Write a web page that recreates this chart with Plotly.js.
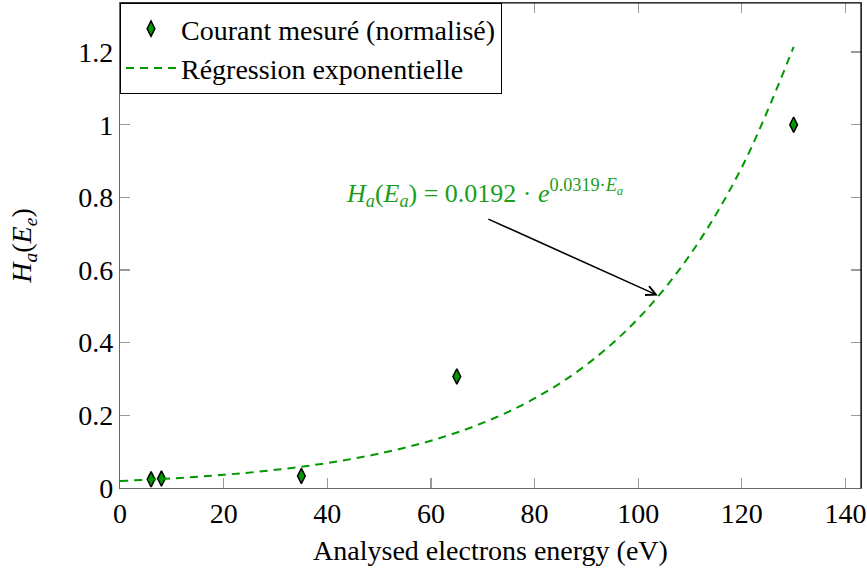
<!DOCTYPE html>
<html>
<head>
<meta charset="utf-8">
<script src="https://cdn.plot.ly/plotly-3.0.1.min.js"></script>
<style>html,body{margin:0;padding:0;background:#fff;}#chart{width:867px;height:570px;}</style>
</head>
<body>
<div id="chart"></div>
<script>
// Measured points (normalised current)
const measuredEnergy = [6, 8, 35, 65, 130];
const measuredCurrent = [0.024, 0.026, 0.033, 0.307, 1.0];
// Exponential regression curve
const fitEnergy = [0, 10, 20, 30, 40, 50, 60, 70, 80, 90, 100, 110, 120, 130];
const fitValue = [0.0192, 0.0264, 0.0363, 0.0500, 0.0688, 0.0946, 0.1302, 0.1791, 0.2464, 0.3390, 0.4664, 0.6417, 0.8827, 1.2144];
const xTicks = [0, 20, 40, 60, 80, 100, 120, 140];
const yTicks = [0, 0.2, 0.4, 0.6, 0.8, 1, 1.2];
const yTickText = ['0', '0.2', '0.4', '0.6', '0.8', '1', '1.2'];

const FONT = 'Liberation Serif';
const GREEN = '#009900';
const FS = 28;

const traces = [
  {
    x: measuredEnergy, y: measuredCurrent, type: 'scatter', mode: 'markers',
    name: 'Courant mesuré (normalisé)',
    marker: {symbol: 'diamond-tall', size: 11, color: GREEN, line: {color: '#000', width: 1.5}}
  },
  {
    x: fitEnergy, y: fitValue, type: 'scatter', mode: 'lines',
    name: 'Régression exponentielle',
    line: {color: GREEN, width: 2, dash: '8px,6px', shape: 'spline'}
  }
];

const layout = {
  width: 867, height: 570,
  margin: {l: 120, r: 6, t: 3, b: 82},
  paper_bgcolor: '#fff', plot_bgcolor: '#fff',
  font: {family: FONT, size: FS, color: '#000'},
  showlegend: true,
  legend: {x: 0, y: 1, xanchor: 'left', yanchor: 'top', bgcolor: '#fff',
           bordercolor: '#000', borderwidth: 1, font: {family: FONT, size: FS, color: '#000'},
           tracegroupgap: 0, itemwidth: 50},
  xaxis: {
    range: [0, 143], tickvals: xTicks, ticks: 'inside', ticklen: 10, tickcolor: '#9a9a9a', tickwidth: 1.2,
    showgrid: false, zeroline: false, showline: true, linecolor: '#666', linewidth: 1.2, mirror: 'ticks',
    tickfont: {family: FONT, size: FS},
    title: {text: 'Analysed electrons energy (eV)', font: {family: FONT, size: FS}, standoff: 12}
  },
  yaxis: {
    range: [0, 1.335], tickvals: yTicks, ticktext: yTickText, ticks: 'inside', ticklen: 10, tickcolor: '#9a9a9a', tickwidth: 1.2,
    showgrid: false, zeroline: false, showline: true, linecolor: '#666', linewidth: 1.2, mirror: 'ticks',
    tickfont: {family: FONT, size: FS},
    title: {text: '<i>H</i><sub><i>a</i></sub>(<i>E</i><sub><i>e</i></sub>)', font: {family: FONT, size: FS}, standoff: 38}
  },
  shapes: [
    {type: 'line', xref: 'paper', yref: 'paper', x0: 0, x1: 1, y0: 1, y1: 1, line: {color: '#000', width: 1.2}},
    {type: 'line', xref: 'paper', yref: 'paper', x0: 1, x1: 1, y0: 0, y1: 1, line: {color: '#000', width: 1.2}}
  ],
  annotations: [
    {
      x: 70.4, y: 0.811, xref: 'x', yref: 'y', showarrow: false,
      text: '<i>H</i><sub><i>a</i></sub>(<i>E</i><sub><i>a</i></sub>) = 0.0192 · <i>e</i><sup>0.0319·<i>E<sub>a</sub></i></sup>',
      font: {family: FONT, size: 26, color: '#1a9e1a'}
    },
    {
      x: 103.8, y: 0.530, ax: 70.8, ay: 0.742, xref: 'x', yref: 'y', axref: 'x', ayref: 'y',
      text: '', showarrow: true, arrowhead: 5, arrowsize: 1.2, arrowwidth: 1.6, arrowcolor: '#000', standoff: 0, startstandoff: 0
    }
  ]
};

Plotly.newPlot('chart', traces, layout, {displayModeBar: false, staticPlot: true});
</script>
</body>
</html>
